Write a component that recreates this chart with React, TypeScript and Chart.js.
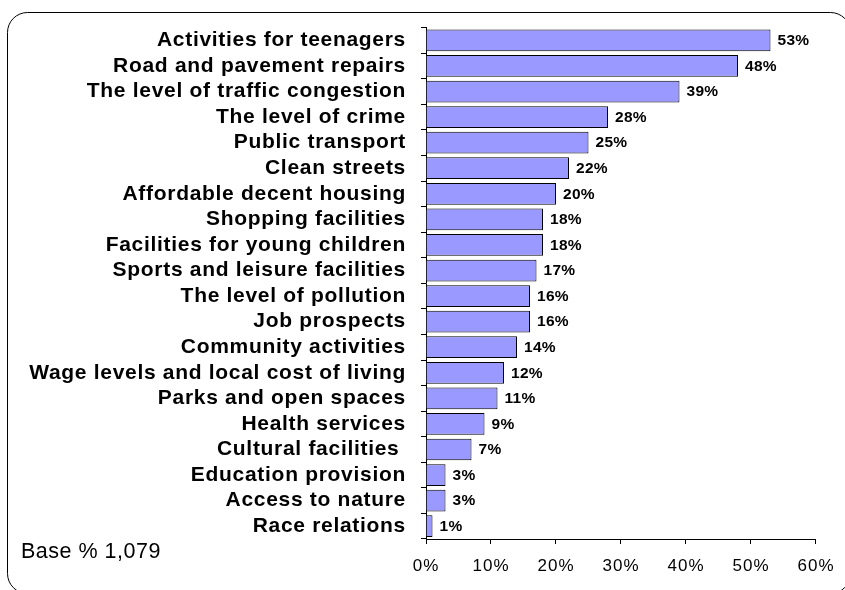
import React, { useEffect, useRef } from 'react';
import { Chart, registerables } from 'chart.js';

Chart.register(...registerables);

const categories = [
  'Activities for teenagers',
  'Road and pavement repairs',
  'The level of traffic congestion',
  'The level of crime',
  'Public transport',
  'Clean streets',
  'Affordable decent housing',
  'Shopping facilities',
  'Facilities for young children',
  'Sports and leisure facilities',
  'The level of pollution',
  'Job prospects',
  'Community activities',
  'Wage levels and local cost of living',
  'Parks and open spaces',
  'Health services',
  'Cultural facilities ',
  'Education provision',
  'Access to nature',
  'Race relations',
];

const values = [53, 48, 39, 28, 25, 22, 20, 18, 18, 17, 16, 16, 14, 12, 11, 9, 7, 3, 3, 1];
const valueLabels = ['53%', '48%', '39%', '28%', '25%', '22%', '20%', '18%', '18%', '17%', '16%', '16%', '14%', '12%', '11%', '9%', '7%', '3%', '3%', '1%'];
const xTickValues = [0, 10, 20, 30, 40, 50, 60];
const baseNote = 'Base % 1,079';

const FONT = '"Liberation Sans", Arial, Helvetica, sans-serif';

function spaced(scale: any, spacing: string) {
  if (scale.$spaced) return;
  scale.$spaced = true;
  const orig = scale.drawLabels;
  scale.drawLabels = function (area: any) {
    const c = this.ctx;
    const prev = c.letterSpacing;
    c.letterSpacing = spacing;
    orig.call(this, area);
    c.letterSpacing = prev || '0px';
  };
}

export default function App() {
  const ref = useRef<HTMLCanvasElement>(null);

  useEffect(() => {
    const canvas = ref.current!;
    const framePlugin = {
      id: 'frame',
      beforeDraw(chart: any) {
        const c = chart.ctx;
        c.save();
        c.fillStyle = '#fff';
        c.fillRect(0, 0, chart.width, chart.height);
        c.strokeStyle = '#000';
        c.lineWidth = 1;
        c.beginPath();
        c.roundRect(7.5, 12.5, 843, 581, 20);
        c.stroke();
        c.font = `21.5px ${FONT}`;
        c.letterSpacing = '0.5px';
        c.fillStyle = '#000';
        c.textAlign = 'left';
        c.textBaseline = 'alphabetic';
        c.fillText(baseNote, 21, 557.5);
        c.letterSpacing = '0px';
        c.restore();
      },
    };
    const valuePlugin = {
      id: 'values',
      afterDatasetsDraw(chart: any) {
        const c = chart.ctx;
        const meta = chart.getDatasetMeta(0);
        c.save();
        c.font = `bold 15.5px ${FONT}`;
        c.letterSpacing = '0.3px';
        c.fillStyle = '#000';
        c.textAlign = 'left';
        c.textBaseline = 'middle';
        meta.data.forEach((bar: any, i: number) => {
          c.fillText(valueLabels[i], bar.x + 7, bar.y + 0.5);
        });
        c.letterSpacing = '0px';
        c.restore();
      },
    };

    const chart = new Chart(canvas, {
      type: 'bar',
      data: {
        labels: categories,
        datasets: [
          {
            data: values,
            backgroundColor: '#9999FF',
            borderColor: '#000',
            borderWidth: 1,
            barPercentage: 0.85,
            categoryPercentage: 1,
          },
        ],
      },
      options: {
        indexAxis: 'y',
        responsive: false,
        maintainAspectRatio: false,
        animation: false,
        devicePixelRatio: 1,
        layout: { padding: { left: 0, top: 26, right: 27, bottom: 11 } },
        plugins: {
          legend: { display: false },
          tooltip: { enabled: false },
        },
        scales: {
          x: {
            type: 'linear',
            position: 'bottom',
            min: 0,
            max: 60,
            afterBuildTicks: (s: any) => {
              s.ticks = xTickValues.map((v) => ({ value: v }));
            },
            afterFit: (s: any) => {
              s.height = 40;
              spaced(s, '1px');
            },
            ticks: {
              callback: (v: any) => `${v}%`,
              font: { family: FONT, size: 17 },
              color: '#000',
              padding: 12,
              maxRotation: 0,
              autoSkip: false,
            },
            grid: { drawOnChartArea: false, drawTicks: true, tickLength: 5, color: '#000' },
            border: { display: true, color: '#000' },
          },
          y: {
            type: 'category',
            position: 'left',
            afterFit: (s: any) => {
              s.width = 426;
              spaced(s, '0.7px');
            },
            ticks: {
              font: { family: FONT, size: 21, weight: 'bold' },
              color: '#000',
              padding: 15,
              autoSkip: false,
            },
            grid: { offset: true, drawOnChartArea: false, drawTicks: true, tickLength: 5, color: '#000' },
            border: { display: true, color: '#000' },
          },
        },
      },
      plugins: [framePlugin, valuePlugin],
    } as any);

    return () => chart.destroy();
  }, []);

  return (
    <div style={{ position: 'fixed', left: 0, top: 0, width: 845, height: 590, background: '#fff', overflow: 'hidden' }}>
      <canvas ref={ref} width={845} height={590} style={{ display: 'block', width: 845, height: 590 }} />
    </div>
  );
}
